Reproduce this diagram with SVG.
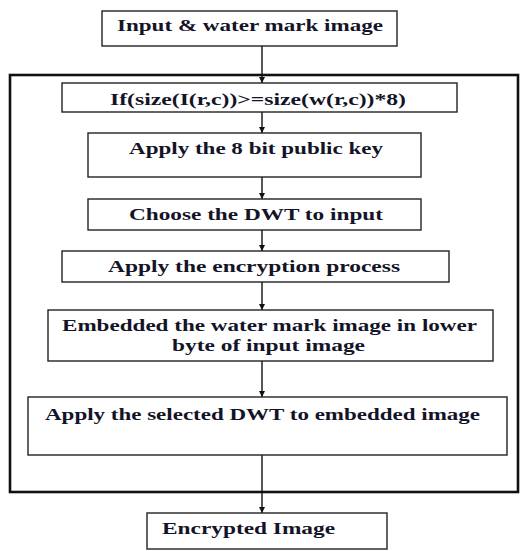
<svg xmlns="http://www.w3.org/2000/svg" width="520" height="551" viewBox="0 0 520 551">
<defs>
<marker id="ah" viewBox="0 0 10 10" refX="10" refY="5" markerWidth="6" markerHeight="6" markerUnits="userSpaceOnUse" orient="auto">
<path d="M0,0 L10,5 L0,10 z" fill="#111"/>
</marker>
<style>
.box{fill:#fff;stroke:#222;stroke-width:1.4}
.frame{fill:none;stroke:#111;stroke-width:2.6}
.t{font-family:"Liberation Serif","Times New Roman",serif;font-weight:bold;font-size:16px;fill:#141428}
.c{stroke:#111;stroke-width:1.4;fill:none;marker-end:url(#ah)}
</style>
</defs>
<rect width="520" height="551" fill="#fff"/>
<g id="frame"><rect class="frame" x="10" y="75" width="508" height="417"/></g>
<g id="connectors">
<line class="c" x1="262" y1="46" x2="262" y2="83"/>
<line class="c" x1="262" y1="112" x2="262" y2="133"/>
<line class="c" x1="262" y1="177" x2="262" y2="199"/>
<line class="c" x1="262" y1="230" x2="262" y2="251"/>
<line class="c" x1="262" y1="282" x2="262" y2="310"/>
<line class="c" x1="262" y1="361" x2="262" y2="397"/>
<line class="c" x1="262" y1="455" x2="262" y2="513"/>
</g>
<g id="n1"><rect class="box" x="102" y="11" width="295" height="35"/><text class="t" x="117" y="31" textLength="266" lengthAdjust="spacingAndGlyphs">Input &amp; water mark image</text></g>
<g id="n2"><rect class="box" x="62" y="83" width="395" height="29"/><text class="t" x="110" y="105" textLength="296" lengthAdjust="spacingAndGlyphs">If(size(I(r,c))&gt;=size(w(r,c))*8)</text></g>
<g id="n3"><rect class="box" x="88" y="133" width="333" height="44"/><text class="t" x="129" y="154" textLength="254" lengthAdjust="spacingAndGlyphs">Apply the 8 bit public key</text></g>
<g id="n4"><rect class="box" x="88" y="199" width="333" height="31"/><text class="t" x="129" y="220" textLength="254" lengthAdjust="spacingAndGlyphs">Choose the DWT to input</text></g>
<g id="n5"><rect class="box" x="62" y="251" width="387" height="31"/><text class="t" x="108" y="272" textLength="292" lengthAdjust="spacingAndGlyphs">Apply the encryption process</text></g>
<g id="n6"><rect class="box" x="48" y="310" width="445" height="51"/><text class="t" x="62" y="331" textLength="415" lengthAdjust="spacingAndGlyphs">Embedded the water mark image in lower</text><text class="t" x="172" y="351" textLength="193" lengthAdjust="spacingAndGlyphs">byte of input image</text></g>
<g id="n7"><rect class="box" x="28" y="397" width="479" height="58"/><text class="t" x="45" y="420" textLength="435" lengthAdjust="spacingAndGlyphs">Apply the selected DWT to embedded image</text></g>
<g id="n8"><rect class="box" x="147" y="513" width="240" height="36"/><text class="t" x="162" y="534" textLength="173" lengthAdjust="spacingAndGlyphs">Encrypted Image</text></g>
</svg>
